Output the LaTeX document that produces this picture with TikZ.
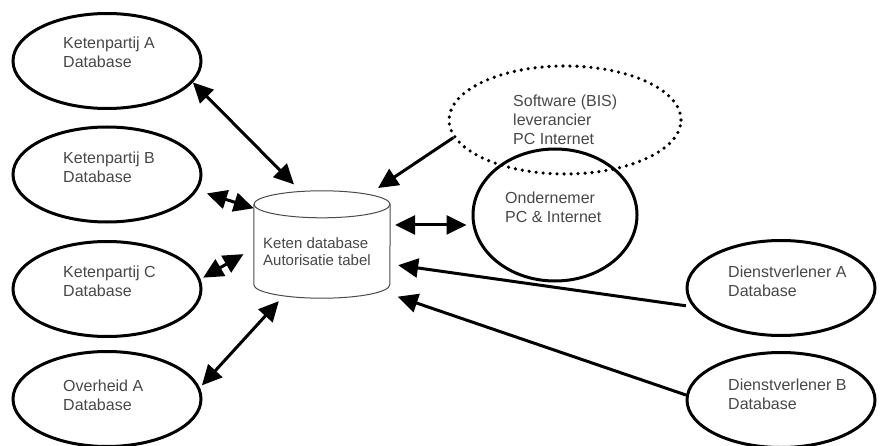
\documentclass[tikz,border=0pt]{standalone}
\usepackage{fontspec}
\setmainfont{Liberation Sans}
\usetikzlibrary{arrows.meta,calc,shapes.geometric}
\definecolor{txtgray}{HTML}{474747}
\definecolor{cylgray}{HTML}{4A4A4A}
\begin{document}
\begin{tikzpicture}[x=1pt,y=1pt,
  party/.style={draw, ellipse, line width=3pt, minimum width=188pt, minimum height=95pt, inner sep=0pt},
  dotline/.style={draw, ellipse, line width=3.6pt, dash pattern=on 0pt off 7pt, line cap=round, inner sep=0pt},
  lbl/.style={anchor=west, align=left, inner sep=0pt, text=txtgray, font=\fontsize{16pt}{19pt}\selectfont},
  cyllbl/.style={lbl, font=\fontsize{15pt}{17pt}\selectfont},
  cylline/.style={draw=cylgray, line width=1pt},
  tip/.tip={Triangle[length=20pt,width=19pt]},
  twoway/.style={line width=3pt, tip-tip},
  oneway/.style={line width=3pt, -tip},
]
\useasboundingbox (0,0) rectangle (882,445);

% parties on the left
\node[party] (ka) at (107,384) {};
\node[party] (kb) at (107,270.5) {};
\node[party] (kc) at (107,156) {};
\node[party] (oa) at (107,46) {};
\node[lbl] (ka-t) at (63,392.5) {Ketenpartij A\\Database};
\node[lbl] (kb-t) at (63,277.5) {Ketenpartij B\\Database};
\node[lbl] (kc-t) at (63,164) {Ketenpartij C\\Database};
\node[lbl] (oa-t) at (63,50) {Overheid A\\Database};

% service providers on the right
\node[party] (dva) at (781,157) {};
\node[party] (dvb) at (781,45) {};
\node[lbl] (dva-t) at (728,163.5) {Dienstverlener A\\Database};
\node[lbl] (dvb-t) at (728,50.5) {Dienstverlener B\\Database};

% entrepreneur and software supplier
\node[dotline, minimum width=232pt, minimum height=108pt] (sw) at (565,325) {};
\node[party, minimum width=164pt, minimum height=132pt] (ond) at (555,230) {};
\node[lbl] (sw-t) at (513,325) {Software (BIS)\\leverancier\\PC Internet};
\node[lbl] (ond-t) at (505,237.5) {Ondernemer\\PC \& Internet};

% central chain database (cylinder)
\node[inner sep=0pt, minimum width=136pt, minimum height=107pt] (keten) at (322,200.5) {};
\draw[cylline] ($(keten.north)+(0,-13.5)$) ellipse[x radius=68pt, y radius=13.5pt];
\draw[cylline] ($(keten.north west)+(0,-13.5)$) -- ($(keten.south west)+(0,13.5)$)
  arc[start angle=180, end angle=360, x radius=68pt, y radius=13.5pt]
  -- ($(keten.north east)+(0,-13.5)$);
\node[cyllbl] (keten-t) at (263,193.5) {Keten database\\Autorisatie tabel};

% connections
\draw[twoway, shorten >=9pt] (ka.-14) -- (keten.112);
\draw[twoway, shorten <=10pt] (kb.-10) -- (keten.152);
\draw[twoway, shorten <=3pt, shorten >=12pt] (kc.6) -- (keten.183);
\draw[twoway, shorten <=3pt, shorten >=4pt] (oa.7) -- (keten.233);
\draw[oneway, shorten >=5pt] (sw.189) -- (keten.46);
\draw[twoway, shorten <=5pt, shorten >=5pt] (keten.16) -- (keten.16 -| ond.west);
\draw[oneway, shorten <=7pt, shorten >=8pt] (dva.192) -- (keten.-16.5);
\draw[oneway, shorten >=8pt] (dvb.177) -- (keten.-36);
\end{tikzpicture}
\end{document}
